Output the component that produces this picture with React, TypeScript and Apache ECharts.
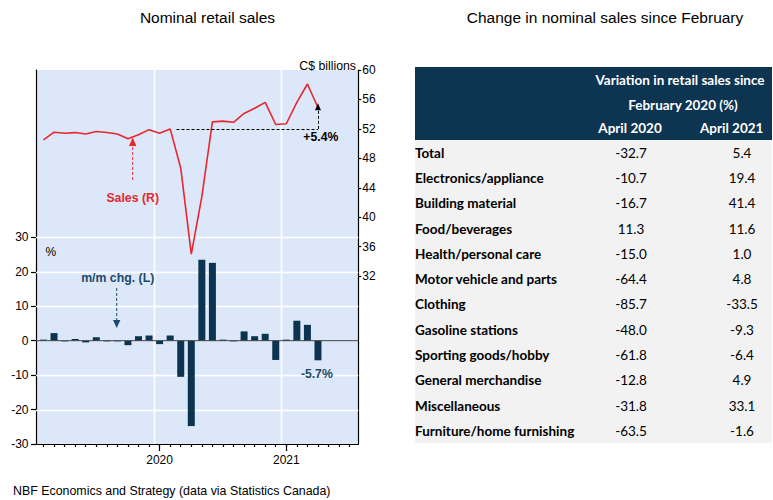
import React, { useEffect, useRef } from "react";
import * as echarts from "echarts";

// ---- Data ----
const months = [
  "Feb 2019", "Mar 2019", "Apr 2019", "May 2019", "Jun 2019", "Jul 2019", "Aug 2019",
  "Sep 2019", "Oct 2019", "Nov 2019", "Dec 2019", "Jan 2020", "Feb 2020", "Mar 2020",
  "Apr 2020", "May 2020", "Jun 2020", "Jul 2020", "Aug 2020", "Sep 2020", "Oct 2020",
  "Nov 2020", "Dec 2020", "Jan 2021", "Feb 2021", "Mar 2021", "Apr 2021",
];
// Monthly change, % (left axis)
const momChange = [
  0.3, 2.2, -0.2, 0.5, -0.5, 1.0, -0.2, -0.2, -1.3, 1.3, 1.5, -1.0, 1.5, -10.5,
  -24.8, 23.5, 22.6, 0.3, -0.2, 2.7, 1.3, 2.0, -5.6, 0.3, 5.8, 4.6, -5.7,
];
// Nominal retail sales, C$ billions (right axis)
const salesBillions = [
  50.5, 51.55, 51.4, 51.5, 51.3, 51.65, 51.5, 51.3, 50.65, 51.2, 51.9, 51.4, 52.0,
  46.7, 35.0, 42.8, 52.95, 53.05, 52.9, 54.1, 54.8, 55.6, 52.6, 52.7, 55.6, 58.1, 54.9,
];
const leftTicks = [-30, -20, -10, 0, 10, 20, 30];
const rightTicks = [32, 36, 40, 44, 48, 52, 56, 60];

// Table
const tableCategories = [
  "Total", "Electronics/appliance", "Building material", "Food/beverages",
  "Health/personal care", "Motor vehicle and parts", "Clothing", "Gasoline stations",
  "Sporting goods/hobby", "General merchandise", "Miscellaneous", "Furniture/home furnishing",
];
const april2020 = [-32.7, -10.7, -16.7, 11.3, -15.0, -64.4, -85.7, -48.0, -61.8, -12.8, -31.8, -63.5];
const april2021 = [5.4, 19.4, 41.4, 11.6, 1.0, 4.8, -33.5, -9.3, -6.4, 4.9, 33.1, -1.6];

const FONT = "'Liberation Sans', Arial, sans-serif";
const TFONT = "Lato, 'Noto Sans', sans-serif";

export default function App() {
  const ref = useRef<HTMLDivElement>(null);

  useEffect(() => {
    if (!ref.current) return;
    const chart = echarts.init(ref.current, undefined, { renderer: "svg" });

    const yearStarts = months
      .map((m, i) => (m.startsWith("Jan") ? i : -1))
      .filter((i) => i >= 0);
    const xMin = -0.71;
    const xMax = 29.82;
    const xTicks = Array.from({ length: 30 }, (_, i) => i);
    const febIdx = months.indexOf("Feb 2020");
    const lastIdx = months.length - 1;
    const base = salesBillions[febIdx];

    const barData = momChange.map((v, i) => [i, v]);
    const lineData = salesBillions.map((v, i) => [i, v]);

    const navy = "#0c3350";
    const annBlue = "#1d4a6b";
    const red = "#e8262e";
    const gridColor = "#ffffff";

    const plotL = 36, plotR = 358.3, plotT = 70, plotB = 444;

    const txt = (text: string, x: number, y: number, opts: any = {}) => ({
      type: "text",
      x,
      y,
      z: 20,
      silent: true,
      style: {
        text,
        fill: opts.fill || "#000",
        fontSize: opts.fontSize || 12,
        fontFamily: opts.fontFamily || FONT,
        fontWeight: opts.fontWeight || "normal",
        align: opts.align || "left",
        verticalAlign: "middle",
      },
    });

    const axisLineStyle = { color: "#000", width: 1.2 };

    chart.setOption({
      animation: false,
      grid: {
        left: plotL,
        right: 773 - plotR,
        top: plotT,
        bottom: 500 - plotB,
        show: false,
        containLabel: false,
        outerBoundsMode: "none",
      },
      xAxis: [
        {
          type: "value",
          min: xMin,
          max: xMax,
          position: "bottom",
          axisLine: { show: true, onZero: false, lineStyle: axisLineStyle },
          axisTick: { show: true, customValues: xTicks, length: 3, lineStyle: axisLineStyle },
          axisLabel: {
            customValues: yearStarts,
            formatter: (v: number) => (months[Math.round(v)] || "").slice(-4),
            margin: 10,
            color: "#000",
            fontSize: 12,
            fontFamily: FONT,
          },
          splitLine: { show: false },
        },
        {
          type: "value",
          min: xMin,
          max: xMax,
          position: "bottom",
          axisLine: { show: false, onZero: false },
          axisTick: { show: true, customValues: yearStarts, length: 7, lineStyle: axisLineStyle },
          axisLabel: { show: false },
          splitLine: { show: false },
        },
      ],
      yAxis: [
        {
          type: "value",
          min: -30,
          max: 78.6,
          position: "left",
          axisLine: { show: true, onZero: false, lineStyle: axisLineStyle },
          axisTick: { show: true, customValues: leftTicks, length: 5, lineStyle: axisLineStyle },
          axisLabel: { customValues: leftTicks, margin: 7.5, color: "#000", fontSize: 12, fontFamily: FONT },
          splitLine: { show: false },
        },
        {
          type: "value",
          min: 9.2,
          max: 60,
          position: "right",
          axisLine: { show: true, onZero: false, lineStyle: axisLineStyle },
          axisTick: { show: true, customValues: rightTicks, length: 3, lineStyle: axisLineStyle },
          axisLabel: { customValues: rightTicks, margin: 4, color: "#000", fontSize: 12, fontFamily: FONT },
          splitLine: { show: false },
        },
      ],
      series: [
        {
          name: "m/m chg. (L)",
          type: "bar",
          xAxisIndex: 0,
          yAxisIndex: 0,
          data: barData,
          barWidth: 7,
          itemStyle: { color: navy },
          z: 3,
        },
        {
          name: "Sales (R)",
          type: "line",
          xAxisIndex: 0,
          yAxisIndex: 1,
          data: lineData,
          showSymbol: false,
          symbol: "none",
          lineStyle: { color: red, width: 1.6 },
          itemStyle: { color: red },
          z: 4,
          markLine: {
            silent: true,
            z: 6,
            symbol: ["none", "none"],
            label: { show: false },
            lineStyle: { color: "#000", width: 1, type: [3, 2] },
            data: [
              [{ coord: [12.6, base] }, { coord: [lastIdx, base] }],
              [
                { coord: [lastIdx, base] },
                { coord: [lastIdx, salesBillions[lastIdx] + 0.1], symbol: "triangle", symbolSize: [6, 7] },
              ],
            ],
          },
        },
      ],
    });

    // Gridlines placed through the chart's own scales
    const px = (x: number, y: number) =>
      chart.convertToPixel({ xAxisIndex: 0, yAxisIndex: 0 }, [x, y]) as number[];
    const gridLines: any[] = [];
    leftTicks
      .filter((v) => v !== leftTicks[0] && v !== 0)
      .forEach((v) => {
        const y = Math.round(px(0, v)[1]) + 0.5;
        gridLines.push({
          type: "line", z: 1, silent: true,
          shape: { x1: plotL, y1: y, x2: plotR, y2: y },
          style: { stroke: gridColor, lineWidth: 1.5 },
        });
      });
    yearStarts.forEach((i) => {
      const x = Math.round(px(i - 0.5, 0)[0]) + 0.5;
      gridLines.push({
        type: "line", z: 1, silent: true,
        shape: { x1: x, y1: plotT, x2: x, y2: plotB },
        style: { stroke: gridColor, lineWidth: 1.5 },
      });
    });
    const zeroY = px(0, 0)[1];
    gridLines.push({
      type: "line", z: 5, silent: true,
      shape: { x1: plotL, y1: zeroY, x2: plotR, y2: zeroY },
      style: { stroke: "#444", lineWidth: 1 },
    });

    const graphics: any[] = [
      // plot background
      {
        type: "rect", z: -10, silent: true,
        shape: { x: plotL, y: plotT, width: plotR - plotL, height: plotB - plotT },
        style: { fill: "#dce8fa" },
      },
      ...gridLines,
      txt("Nominal retail sales", 207.5, 17, { align: "center", fontSize: 15.5 }),
      txt("Change in nominal sales since February", 605, 17, { align: "center", fontSize: 15.5 }),
      txt("NBF Economics and Strategy (data via Statistics Canada)", 13, 491, { fontSize: 12.4 }),
      txt("C$ billions", 356, 66, { align: "right", fontSize: 12.3 }),
      txt("%", 45.5, 252, { fontSize: 12 }),
      txt("m/m chg. (L)", 117.7, 277.7, { align: "center", fontWeight: "bold", fill: annBlue, fontSize: 12.3 }),
      txt("Sales (R)", 132.7, 197.7, { align: "center", fontWeight: "bold", fill: red, fontSize: 12.3 }),
      txt("+" + april2021[0].toFixed(1) + "%", 320.8, 136.7, { align: "center", fontWeight: "bold", fontSize: 12.2 }),
      txt(momChange[lastIdx].toFixed(1) + "%", 316.8, 374, { align: "center", fontWeight: "bold", fill: annBlue, fontSize: 12.2 }),
      // m/m arrow
      {
        type: "line", z: 20, silent: true,
        shape: { x1: 116.7, y1: 288, x2: 116.7, y2: 321 },
        style: { stroke: annBlue, lineWidth: 1, lineDash: [3, 2] },
      },
      {
        type: "polygon", z: 20, silent: true,
        shape: { points: [[113, 320], [120.4, 320], [116.7, 328]] },
        style: { fill: annBlue },
      },
      // Sales arrow
      {
        type: "line", z: 20, silent: true,
        shape: { x1: 132.7, y1: 180, x2: 132.7, y2: 145 },
        style: { stroke: red, lineWidth: 1, lineDash: [3, 2] },
      },
      {
        type: "polygon", z: 20, silent: true,
        shape: { points: [[129, 146], [136.4, 146], [132.7, 137.5]] },
        style: { fill: red },
      },
      // Table
      {
        type: "rect", z: 1, silent: true,
        shape: { x: 415, y: 67, width: 357, height: 73 },
        style: { fill: "#0d3451" },
      },
      {
        type: "rect", z: 1, silent: true,
        shape: { x: 415, y: 140, width: 357, height: 303 },
        style: { fill: "#f2f2f2" },
      },
      txt("Variation in retail sales since", 680, 80, { align: "center", fontWeight: "bold", fill: "#fff", fontFamily: TFONT, fontSize: 13.5 }),
      txt("February 2020 (%)", 683, 105, { align: "center", fontWeight: "bold", fill: "#fff", fontFamily: TFONT, fontSize: 13.5 }),
      txt("April 2020", 630, 128, { align: "center", fontWeight: "bold", fill: "#fff", fontFamily: TFONT, fontSize: 13.5 }),
      txt("April 2021", 731.7, 128, { align: "center", fontWeight: "bold", fill: "#fff", fontFamily: TFONT, fontSize: 13.5 }),
    ];
    tableCategories.forEach((c, i) => {
      const y = 140 + 25.3 * (i + 0.5);
      graphics.push(txt(c, 415, y, { fontWeight: "bold", fontFamily: TFONT, fontSize: 13.5 }));
      graphics.push(txt(april2020[i].toFixed(1), 631, y, { align: "center", fontFamily: TFONT, fontSize: 13.5 }));
      graphics.push(txt(april2021[i].toFixed(1), 742, y, { align: "center", fontFamily: TFONT, fontSize: 13.5 }));
    });

    chart.setOption({ graphic: graphics });

    return () => chart.dispose();
  }, []);

  return (
    <div
      ref={ref}
      style={{ position: "absolute", left: 0, top: 0, width: 773, height: 500, background: "#fff" }}
    />
  );
}
